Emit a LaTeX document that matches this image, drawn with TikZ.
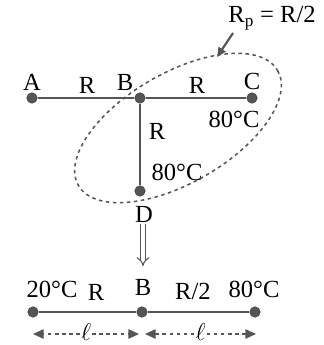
\documentclass[tikz,border=0pt]{standalone}
\usepackage{fontspec}
\setmainfont{Liberation Serif}
\usepackage{tikz}
\usetikzlibrary{arrows.meta, calc}
\definecolor{wiregray}{RGB}{85,85,85}

\begin{document}
\begin{tikzpicture}[x=0.03cm, y=-0.03cm, font=\fontsize{21}{24}\selectfont,
  dot/.style={circle, fill=wiregray, draw=wiregray!70!black, inner sep=0pt, minimum size=9pt},
  wire/.style={wiregray, line width=1.6pt},
  dimline/.style={wiregray, dashed, line width=1pt, -{Triangle[length=9pt,width=8pt]}}]

  \useasboundingbox (0,0) rectangle (323,345);

  % Top network
  \node[dot] (A) at (32,98) {};
  \node[dot] (B) at (140,98) {};
  \node[dot] (C) at (252,98) {};
  \node[dot] (D) at (140,191) {};
  \draw[wire] (A) -- (B) -- (C);
  \draw[wire] (B) -- (D);
  \node at (32,82) {A};
  \node at (87,85) {R};
  \node at (125,82) {B};
  \node at (197,85) {R};
  \node at (252,81) {C};
  \node at (234,119) {80\textdegree C};
  \node at (157,131) {R};
  \node at (177,172) {80\textdegree C};
  \node at (144,214) {D};

  % Parallel group
  \coordinate (E) at (178,128);
  \draw[wiregray, dashed, line width=1.3pt, rotate around={30:(E)}] (E) ellipse (115 and 55);
  \node (Rp) at (272,18) {R$_{\mathrm{p}}$ = R/2};
  \coordinate (tip) at (217,57);
  \draw[wiregray, line width=1.8pt, -{Triangle[length=8pt,width=7pt]}] (233,33) -- (tip);

  % Reduction arrow
  \coordinate (d1) at (143,224);
  \coordinate (d2) at (143,266);
  \draw[wiregray, double, double distance=3pt, line width=0.9pt, -{Implies[length=6pt]}] (d1) -- (d2);

  % Equivalent bar
  \node[dot] (L) at (33,312) {};
  \node[dot] (M) at (142,312) {};
  \node[dot] (N) at (255,312) {};
  \draw[wire] (L) -- (M) -- (N);
  \node at (52,289) {20\textdegree C};
  \node at (96,292) {R};
  \node at (143,287) {B};
  \node at (193,291) {R/2};
  \node at (254,289) {80\textdegree C};

  % Lengths
  \coordinate (l1) at (33,334);
  \coordinate (l2) at (139,334);
  \coordinate (l3) at (145,334);
  \coordinate (l4) at (256,334);
  \node[inner sep=1pt] (len1) at ($(l1)!0.5!(l2)+(0,-2)$) {$\ell$};
  \node[inner sep=1pt] (len2) at ($(l3)!0.5!(l4)+(0,-2)$) {$\ell$};
  \draw[dimline] (len1.west |- l1) -- (l1);
  \draw[dimline] (len1.east |- l2) -- (l2);
  \draw[dimline] (len2.west |- l3) -- (l3);
  \draw[dimline] (len2.east |- l4) -- (l4);

\end{tikzpicture}
\end{document}
